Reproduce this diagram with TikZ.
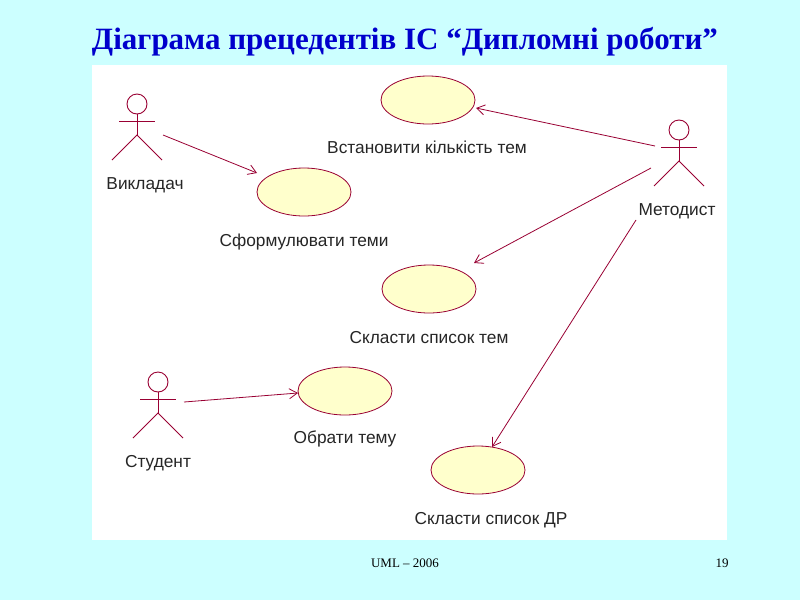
\documentclass[tikz,border=0pt]{standalone}
\usepackage{fontspec}
\setmainfont{Liberation Serif}
\newfontfamily\lsans{Liberation Sans}
\usetikzlibrary{arrows.meta,shapes.geometric}
\definecolor{bg}{HTML}{CCFFFF}
\definecolor{uc}{HTML}{FFFFCC}
\definecolor{ln}{HTML}{990033}
\definecolor{ttl}{HTML}{0000CC}
\begin{document}
\begin{tikzpicture}[x=1pt,y=-1pt,
  usecase/.style={ellipse,draw=ln,fill=uc,line width=0.8pt,minimum width=94pt,minimum height=48pt,inner sep=0pt},
  lbl/.style={font=\lsans\fontsize{17.3}{17}\selectfont,text=black!85},
  assoc/.style={draw=ln,line width=0.8pt,-{Straight Barb[length=8pt,width=10pt]}},
  fig/.style={draw=ln,line width=0.9pt}]
\useasboundingbox (0,0) rectangle (800,600);
\fill[bg] (0,0) rectangle (800,600);
\fill[white] (92,65) rectangle (727,540);
\node[font=\bfseries\fontsize{31}{31}\selectfont,text=ttl] (title) at (405,42) {Діаграма прецедентів ІС “Дипломні роботи”};
\node[font=\fontsize{13}{13}\selectfont] (foot) at (405,563) {UML – 2006};
\node[font=\fontsize{13}{13}\selectfont] (pg) at (722,563) {19};
% actors
\newcommand\actor[3]{%
  \draw[fig] (#1,#2) circle (10);
  \draw[fig] (#1-18,#2+17) -- (#1+18,#2+17);
  \draw[fig] (#1,#2+10) -- (#1,#2+31);
  \draw[fig] (#1-25,#2+56) -- (#1,#2+31) -- (#1+25,#2+56);
  \coordinate (#3) at (#1,#2);}
\actor{137}{104}{a1}
\actor{679}{130}{a2}
\actor{158}{382}{a3}
\node[lbl] (l1) at (145,185) {Викладач};
\node[lbl] (l2) at (677,211) {Методист};
\node[lbl] (l3) at (158,463) {Студент};
% use cases
\node[usecase] (u1) at (428,100) {};
\node[usecase] (u2) at (304,192) {};
\node[usecase] (u3) at (429,289) {};
\node[usecase] (u4) at (345,391) {};
\node[usecase] (u5) at (478,470) {};
\node[lbl] at (427,147) {Встановити кількість тем};
\node[lbl] at (304,242) {Сформулювати теми};
\node[lbl] at (429,338) {Скласти список тем};
\node[lbl] at (345,439) {Обрати тему};
\node[lbl] at (491,520) {Скласти список ДР};
% associations
\coordinate (s1) at (163,135); \coordinate (e1) at (257,173);
\coordinate (s2) at (655,146); \coordinate (e2) at (476,108);
\coordinate (s3) at (651,168); \coordinate (e3) at (474,263);
\coordinate (s4) at (636,220); \coordinate (e4) at (492,447);
\coordinate (s5) at (184,402); \coordinate (e5) at (298,393);
\draw[assoc] (s1) -- (e1);
\draw[assoc] (s2) -- (e2);
\draw[assoc] (s3) -- (e3);
\draw[assoc] (s4) -- (e4);
\draw[assoc] (s5) -- (e5);
\end{tikzpicture}
\end{document}
